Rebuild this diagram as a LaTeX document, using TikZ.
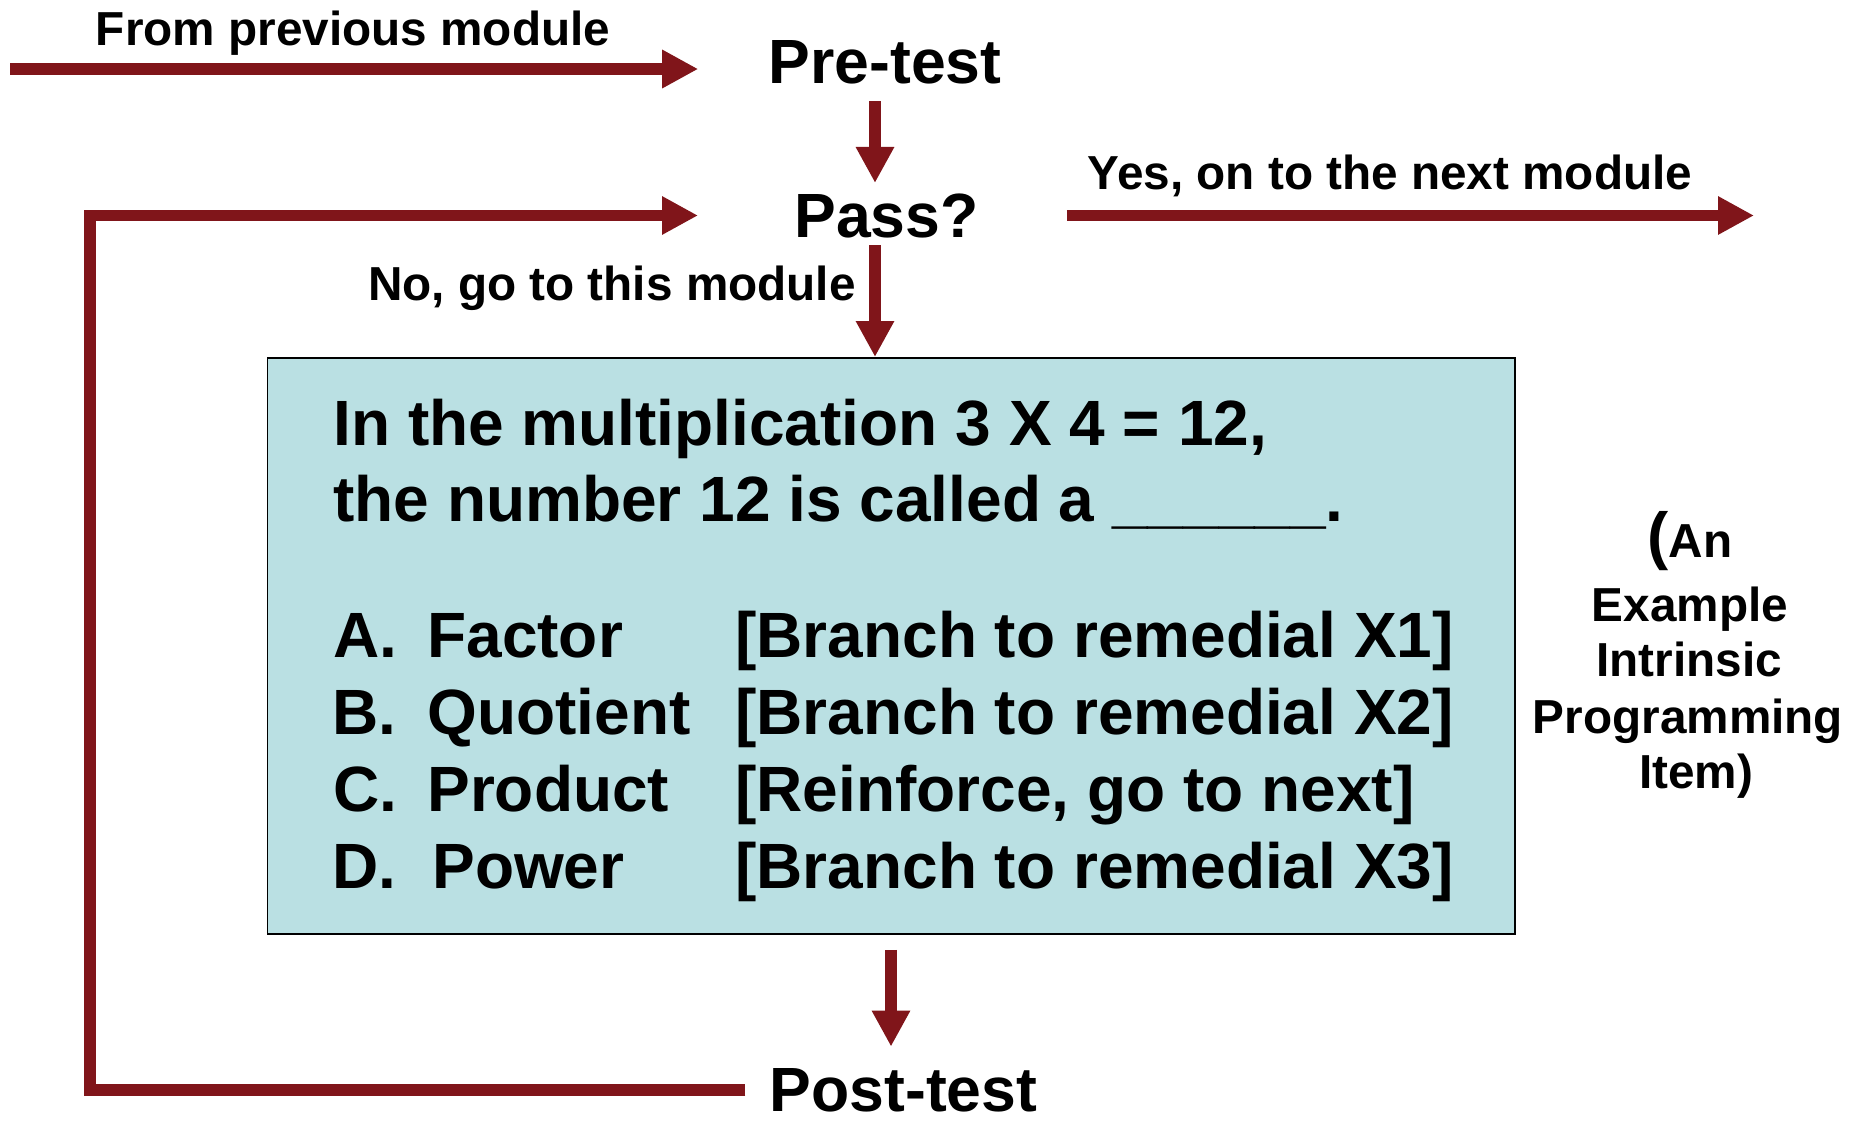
\documentclass[tikz,border=0pt]{standalone}
\usepackage{fontspec}
\setmainfont{Liberation Sans}
\usetikzlibrary{arrows.meta}
\definecolor{flowred}{RGB}{128,21,26}
\definecolor{itemfill}{RGB}{186,224,227}

\begin{document}
\begin{tikzpicture}[x=0.5pt,y=-0.5pt,
  flow/.style={draw=flowred, line width=5.75pt},
  flowarrow/.style={flow, -{Triangle[length=18pt,width=18pt]}},
  stage/.style={inner sep=0pt, anchor=base, font=\bfseries\fontsize{31.25pt}{37pt}\selectfont},
  caption/.style={inner sep=0pt, anchor=base, font=\bfseries\fontsize{23.85pt}{28pt}\selectfont},
  itemtext/.style={inner sep=0pt, anchor=base west, font=\bfseries\fontsize{32pt}{38pt}\selectfont},
]
\useasboundingbox (0,0) rectangle (1850,1121);

% helper coordinates for the connectors
\coordinate (src) at (10,69);
\coordinate (exit) at (1754,213);
\coordinate (loopx) at (90,0);
\coordinate (colA) at (875,0);
\coordinate (colB) at (891,0);

% stages
\node[stage] (pre)  at (885,83)    {Pre-test};
\node[stage] (pass) at (886.5,237) {Pass?};
\node[stage] (post) at (903.5,1111) {Post-test};

% connector labels
\node[caption] (from) at (353,45) {From previous module};
\node[caption] (yes)  at (1390,189) {Yes, on to the next module};
\node[caption, anchor=base east] (no) at (856,300) {No, go to this module};

% the programmed item
\node[draw=black, line width=0.9pt, fill=itemfill, anchor=north west,
      minimum width=623.7pt, minimum height=288pt, inner sep=0pt] (item) at (266.6,357) {};

\node[itemtext] (q1) at (333,445) {In the multiplication 3 X 4 = 12,};
\node[itemtext] (q2) at (333,521) {the number 12 is called a \_\_\_\_\_\_.};

\node[itemtext] (la) at (333,657) {A.};
\node[itemtext] (wa) at (427,657) {Factor};
\node[itemtext] (ba) at (735,657) {[Branch to remedial X1]};

\node[itemtext] (lb) at (332,734) {B.};
\node[itemtext] (wb) at (427,734) {Quotient};
\node[itemtext] (bb) at (735,734) {[Branch to remedial X2]};

\node[itemtext] (lc) at (333,811) {C.};
\node[itemtext] (wc) at (427,811) {Product};
\node[itemtext] (bc) at (735,811) {[Reinforce, go to next]};

\node[itemtext] (ld) at (332,888) {D.};
\node[itemtext] (wd) at (432,888) {Power};
\node[itemtext] (bd) at (735,888) {[Branch to remedial X3]};

% side caption
\node[caption] (r1) at (1690,557) {{\fontsize{31.8pt}{38pt}\selectfont(}An};
\node[caption] (r2) at (1690,621) {Example};
\node[caption] (r3) at (1689,676) {Intrinsic};
\node[caption] (r4) at (1688,733) {Programming};
\node[caption] (r5) at (1696,788) {Item)};

% connectors
\draw[flowarrow] (src) -- ([xshift=-35pt]pre.west |- src);
\draw[flowarrow, shorten <=8.5pt, shorten >=5pt] (pre.south -| colA) -- (pass.north -| colA);
\draw[flowarrow, shorten <=3.5pt] (pass.south -| colA) -- (item.north -| colA);
\draw[flowarrow] ([xshift=44pt]pass.east) -- (exit |- pass.east);
\draw[flowarrow, shorten <=7.5pt, shorten >=10.5pt] (item.south -| colB) -- (post.north -| colB);
\draw[flowarrow] ([xshift=-12pt]post.west) -| (loopx |- pass.west) -- ([xshift=-48pt]pass.west);
\end{tikzpicture}
\end{document}
